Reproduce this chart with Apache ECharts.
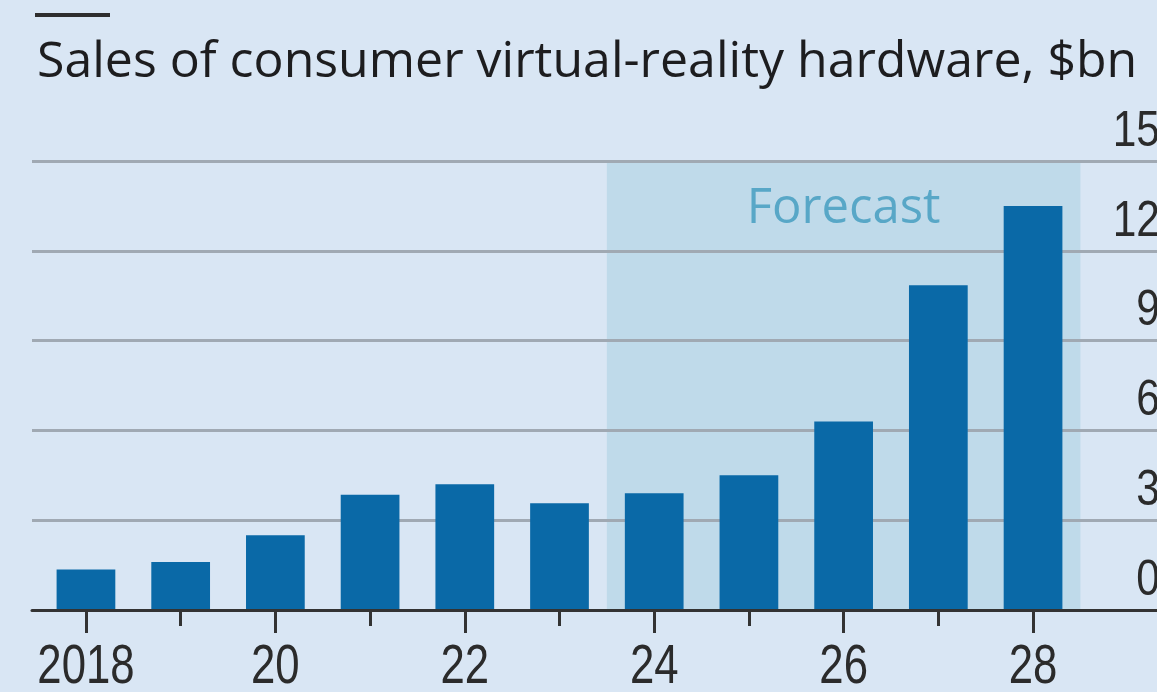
<!DOCTYPE html>
<html>
<head>
<meta charset="utf-8">
<script src="https://cdn.jsdelivr.net/npm/echarts@6/dist/echarts.min.js"></script>
<style>
  html, body { margin: 0; padding: 0; background: #d9e6f4; }
  #chart { width: 1157px; height: 692px; }
</style>
</head>
<body>
<div id="chart"></div>
<script>
// Annual sales, $bn (2024 onwards are forecasts)
const years = ['2018', '2019', '2020', '2021', '2022', '2023', '2024', '2025', '2026', '2027', '2028'];
const sales = [1.35, 1.6, 2.5, 3.85, 4.2, 3.57, 3.9, 4.5, 6.3, 10.85, 13.5];
const firstForecastYear = '2024';
const yTicks = [0, 3, 6, 9, 12, 15];
const titleText = 'Sales of consumer virtual-reality hardware, $bn';
const forecastText = 'Forecast';

const textFont = "'Open Sans', Lato, sans-serif";
const axisFont = "'Liberation Sans', Arial, sans-serif";
const axisColor = '#2b2b2b';
const yMin = yTicks[0];
const yMax = yTicks[yTicks.length - 1];
const yStep = yTicks[1] - yTicks[0];

// Forecast band spans whole year slots on a numeric year axis
const forecastStart = Number(firstForecastYear) - 0.5;
const forecastEnd = Number(years[years.length - 1]) + 0.5;

const chart = echarts.init(document.getElementById('chart'), null, { renderer: 'canvas' });

const topRule = {
  id: 'top-rule', type: 'line',
  shape: { x1: 35, y1: 15, x2: 110, y2: 15 },
  style: { stroke: '#2e2e2e', lineWidth: 4 }
};

chart.setOption({
  backgroundColor: '#d9e6f4',
  animation: false,
  title: {
    text: titleText,
    left: 32,
    top: 33,
    textStyle: { fontFamily: textFont, fontSize: 50, fontWeight: 'normal', color: '#1d1d1f' }
  },
  graphic: [topRule],
  grid: [
    { left: 32, right: 0, top: 161, bottom: 82 },
    { left: 38.6, right: 76.6, top: 161, bottom: 82 }
  ],
  xAxis: [
    { // baseline across the full width
      gridIndex: 0, type: 'value', min: 0, max: 1, z: 6, position: 'bottom',
      axisLine: { show: true, lineStyle: { color: '#333', width: 3 } },
      axisTick: { show: false }, axisLabel: { show: false }, splitLine: { show: false }
    },
    { // short ticks for every year
      gridIndex: 1, type: 'category', data: years, z: 6, position: 'bottom', offset: 0,
      axisLine: { show: false },
      axisTick: { show: true, alignWithLabel: true, interval: 0, length: 16, lineStyle: { color: '#333', width: 3 } },
      axisLabel: { show: false }
    },
    { // longer ticks every other year
      gridIndex: 1, type: 'category', data: years, z: 6, position: 'bottom', offset: 0,
      axisLine: { show: false },
      axisTick: { show: true, alignWithLabel: true, interval: 1, length: 23, lineStyle: { color: '#333', width: 3 } },
      axisLabel: { show: false }
    },
    { // numeric year axis for the forecast band
      gridIndex: 1, type: 'value', min: Number(years[0]) - 0.5, max: forecastEnd, show: false
    }
  ],
  yAxis: [
    {
      gridIndex: 0, type: 'value', position: 'right', min: yMin, max: yMax, interval: yStep, z: 3,
      axisLine: { show: false }, axisTick: { show: false }, axisLabel: { show: false },
      splitLine: { show: true, lineStyle: { color: '#a0a9b3', width: 3 } }
    },
    { gridIndex: 1, type: 'value', min: yMin, max: yMax, show: false }
  ],
  series: [
    {
      type: 'scatter', xAxisIndex: 3, yAxisIndex: 1, data: [], z: 1, silent: true,
      markArea: {
        silent: true,
        itemStyle: { color: '#bfdaea' },
        label: {
          show: true, position: 'insideTop', distance: 24,
          formatter: forecastText,
          fontFamily: textFont, fontSize: 49, color: '#58a7c7'
        },
        data: [[{ xAxis: forecastStart }, { xAxis: forecastEnd }]]
      }
    },
    {
      type: 'bar', xAxisIndex: 1, yAxisIndex: 1, data: sales, z: 5,
      barWidth: '62%',
      itemStyle: { color: '#0a69a7' }
    }
  ]
});

// Condensed tick labels, placed with the axes' own scales
const baseY = chart.convertToPixel({ yAxisIndex: 1 }, yMin);
const xLabels = years
  .filter((y, i) => i % 2 === 0)
  .map((y, i) => ({
    type: 'text', z: 10,
    x: chart.convertToPixel({ xAxisIndex: 1 }, y),
    y: baseY + 58,
    scaleX: 0.78,
    style: {
      text: i === 0 ? y : y.slice(2),
      fontFamily: axisFont, fontSize: 56, fill: axisColor,
      align: 'center', verticalAlign: 'middle'
    }
  }));
const yLabels = yTicks.map(v => ({
  type: 'text', z: 10,
  x: 1160,
  y: chart.convertToPixel({ yAxisIndex: 0 }, v) - 29,
  scaleX: 0.85,
  style: {
    text: String(v),
    fontFamily: axisFont, fontSize: 50, fill: axisColor,
    align: 'right', verticalAlign: 'middle'
  }
}));
chart.setOption({ graphic: [topRule].concat(xLabels, yLabels) });
</script>
</body>
</html>
